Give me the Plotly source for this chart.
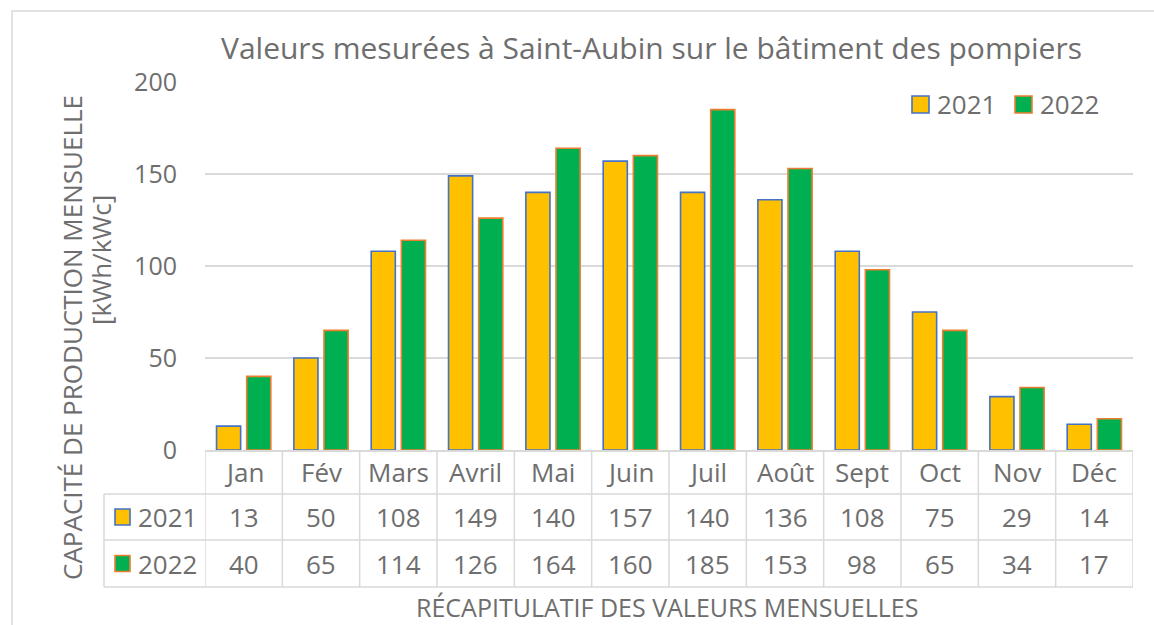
import plotly.graph_objects as go

months = ["Jan", "Fév", "Mars", "Avril", "Mai", "Juin", "Juil", "Août", "Sept", "Oct", "Nov", "Déc"]
years = ["2021", "2022"]
values_2021 = [13, 50, 108, 149, 140, 157, 140, 136, 108, 75, 29, 14]
values_2022 = [40, 65, 114, 126, 164, 160, 185, 153, 98, 65, 34, 17]
y_ticks = [0, 50, 100, 150, 200]

title_text = "Valeurs mesurées à Saint-Aubin sur le bâtiment des pompiers"
y_title_1 = "CAPACITÉ DE PRODUCTION MENSUELLE"
y_title_2 = "[kWh/kWc]"
x_title = "RÉCAPITULATIF DES VALEURS MENSUELLES"

W, H = 1154, 625
L, R, T, B = 205, 1133, 82, 450
FONT = "Open Sans"
GRAY = "#6E6E6E"
LINE = "#D9D9D9"
fills = ["#FFC000", "#00B050"]
borders = ["#4472C4", "#ED7D31"]
series = [values_2021, values_2022]


def px(x):
    return (x - L) / (R - L)


def py(y):
    return (B - y) / (B - T)


fig = go.Figure()
for name, vals, fc, bc in zip(years, series, fills, borders):
    fig.add_trace(go.Bar(x=months, y=vals, name=name,
                         marker=dict(color=fc, line=dict(color=bc, width=1.6)),
                         showlegend=False, hoverinfo="skip"))

shapes = []
ann = []

# chart border
shapes.append(dict(type="rect", xref="paper", yref="paper",
                   x0=px(12), x1=px(1180), y0=py(11), y1=py(650),
                   line=dict(color=LINE, width=1.5)))

# table lines
for yy in [494, 540, 587]:
    shapes.append(dict(type="line", xref="paper", yref="paper",
                       x0=px(104), x1=px(R), y0=py(yy), y1=py(yy),
                       line=dict(color=LINE, width=1.5)))
shapes.append(dict(type="line", xref="paper", yref="paper",
                   x0=px(104), x1=px(104), y0=py(494), y1=py(587),
                   line=dict(color=LINE, width=1.5)))
for i in range(len(months) + 1):
    shapes.append(dict(type="line", xref="x", yref="paper",
                       x0=i - 0.5, x1=i - 0.5, y0=py(450), y1=py(587),
                       line=dict(color=LINE, width=1.5)))

TS = 26
row_y = [517, 563.5]
for i, m in enumerate(months):
    ann.append(dict(x=m, xref="x", y=py(472), yref="paper", text=m, showarrow=False,
                    font=dict(family=FONT, size=TS, color=GRAY), xanchor="center", yanchor="middle"))
    for r, vals in enumerate(series):
        ann.append(dict(x=m, xref="x", y=py(row_y[r]), yref="paper", text=str(vals[i]), showarrow=False,
                        font=dict(family=FONT, size=TS, color=GRAY), xanchor="center", yanchor="middle"))

# table row labels with keys
for r, (name, fc, bc) in enumerate(zip(years, fills, borders)):
    cy = row_y[r]
    shapes.append(dict(type="rect", xref="paper", yref="paper",
                       x0=px(115), x1=px(130), y0=py(cy - 8), y1=py(cy + 8),
                       fillcolor=fc, line=dict(color=bc, width=1.6)))
    ann.append(dict(x=px(136), xref="paper", y=py(cy), yref="paper", text=name, showarrow=False,
                    font=dict(family=FONT, size=TS, color=GRAY), xanchor="left", yanchor="middle"))

# top legend
leg_x = [912, 1015]
for name, fc, bc, lx in zip(years, fills, borders, leg_x):
    shapes.append(dict(type="rect", xref="paper", yref="paper",
                       x0=px(lx), x1=px(lx + 17), y0=py(96), y1=py(113),
                       fillcolor=fc, line=dict(color=bc, width=1.6)))
    ann.append(dict(x=px(lx + 23), xref="paper", y=py(104.5), yref="paper", text=name, showarrow=False,
                    font=dict(family=FONT, size=TS, color=GRAY), xanchor="left", yanchor="middle"))

# titles
ann.append(dict(x=px(651), xref="paper", y=py(47), yref="paper", text=title_text, showarrow=False,
                font=dict(family=FONT, size=30, color=GRAY), xanchor="center", yanchor="middle"))
ann.append(dict(x=px(72), xref="paper", y=py(338), yref="paper", text=y_title_1, showarrow=False,
                textangle=-90, font=dict(family=FONT, size=26, color=GRAY), xanchor="center", yanchor="middle"))
ann.append(dict(x=px(101), xref="paper", y=py(260), yref="paper", text=y_title_2, showarrow=False,
                textangle=-90, font=dict(family=FONT, size=26, color=GRAY), xanchor="center", yanchor="middle"))
ann.append(dict(x=px(667), xref="paper", y=py(607), yref="paper", text=x_title, showarrow=False,
                font=dict(family=FONT, size=25, color=GRAY), xanchor="center", yanchor="middle"))

fig.update_layout(
    width=W, height=H,
    margin=dict(l=L, r=W - R, t=T, b=H - B),
    paper_bgcolor="white", plot_bgcolor="white",
    barmode="group", bargap=0.22, bargroupgap=0.2,
    shapes=shapes, annotations=ann,
    xaxis=dict(type="category", showticklabels=False, showgrid=False, ticks="",
               showline=True, linecolor=LINE, linewidth=1.5, range=[-0.5, 11.5]),
    yaxis=dict(range=[0, 200], tickvals=y_ticks, showgrid=True, gridcolor=LINE, gridwidth=1.5,
               zeroline=False, showline=False, ticks="", ticklabelstandoff=27,
               tickfont=dict(family=FONT, size=25, color=GRAY)),
    font=dict(family=FONT, color=GRAY),
)

fig.write_html("out.html", config={"displayModeBar": False},
               post_script="document.body.style.margin='0';document.body.style.overflow='hidden';")
